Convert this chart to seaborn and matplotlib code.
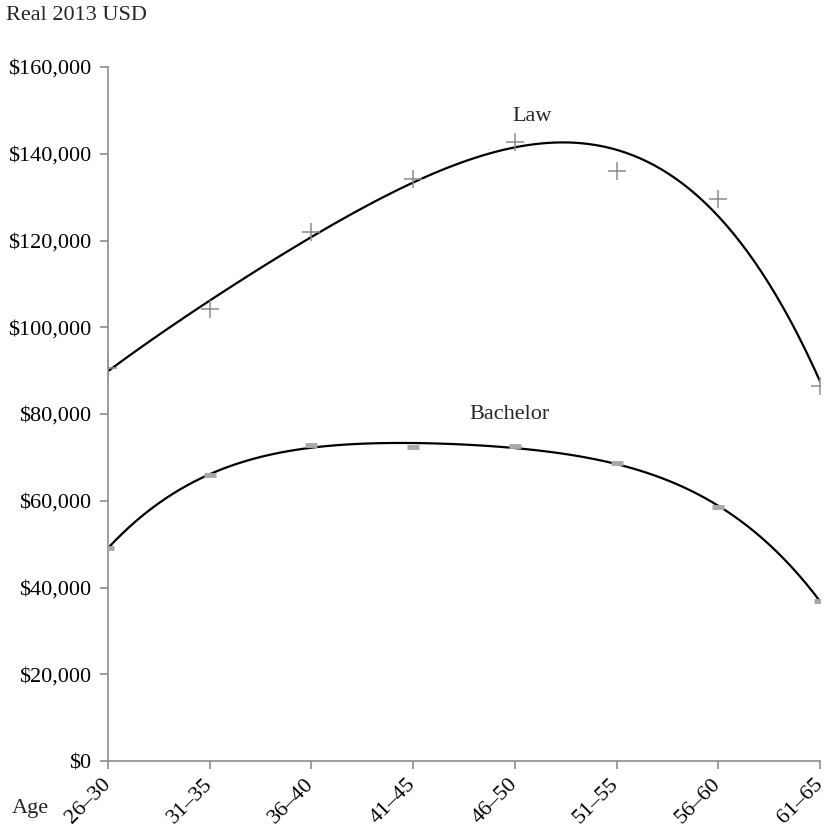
import matplotlib
matplotlib.use("Agg")
import matplotlib.pyplot as plt
import matplotlib.ticker as mticker
import matplotlib.transforms as mtransforms
import seaborn as sns
import numpy as np
import pandas as pd

age_groups = ["26–30", "31–35", "36–40", "41–45", "46–50", "51–55", "56–60", "61–65"]
law = [90500, 104200, 122000, 134200, 142700, 136000, 129600, 86500]
bachelor = [49100, 65900, 72900, 72400, 72600, 68600, 58600, 36900]
y_ticks = [0, 20000, 40000, 60000, 80000, 100000, 120000, 140000, 160000]

sns.set_theme(style="white")
plt.rcParams["font.family"] = ["Liberation Serif", "DejaVu Serif"]

df = pd.DataFrame({"pos": np.arange(len(age_groups)), "age": age_groups,
                   "Law": law, "Bachelor": bachelor})

fig = plt.figure(figsize=(8.27, 8.32), dpi=100)
ax = fig.add_axes([108/827, 1-761/832, (820-108)/827, (761-67)/832])

gray = "#8c8c8c"
for col in ["Law", "Bachelor"]:
    sns.regplot(data=df, x="pos", y=col, order=4, ci=None, scatter=False, ax=ax,
                line_kws=dict(color="black", lw=1.6))

sns.scatterplot(data=df, x="pos", y="Law", marker="+", s=160, color=gray,
                linewidth=1.1, ax=ax, zorder=3)
ax.plot(df["pos"], df["Bachelor"], linestyle="none", marker="_", markersize=8,
        markeredgewidth=3.5, color="#a8a8a8", zorder=3)

ax.set_xlim(0, len(age_groups) - 1)
ax.set_ylim(0, 160000)
ax.set_yticks(y_ticks)
ax.yaxis.set_major_formatter(mticker.FuncFormatter(lambda v, p: f"${int(v):,}"))
ax.set_xticks(df["pos"])
ax.set_xticklabels(age_groups, rotation=45, ha="right", rotation_mode="anchor")
ax.set_xlabel("")
ax.set_ylabel("")

for side in ["top", "right"]:
    ax.spines[side].set_visible(False)
for side in ["left", "bottom"]:
    ax.spines[side].set_color(gray)
    ax.spines[side].set_linewidth(1.2)
    ax.spines[side].set_clip_on(False)

ax.tick_params(axis="both", which="major", direction="out", length=6, width=1.2,
               color=gray, labelsize=16, labelcolor="black", pad=6)
ax.tick_params(axis="x", pad=4, bottom=True)
ax.tick_params(axis="y", left=True)
offset = mtransforms.ScaledTranslation(-7/100, 0, fig.dpi_scale_trans)
for lbl in ax.get_xticklabels():
    lbl.set_color("black")
    lbl.set_transform(lbl.get_transform() + offset)

ax.text(4.17, 146500, "Law", fontsize=16, ha="center", va="bottom")
ax.text(3.95, 77700, "Bachelor", fontsize=16, ha="center", va="bottom")

fig.text(6/827, 1-15/832, "Real 2013 USD", fontsize=16, ha="left", va="center")
fig.text(12/827, 1-808/832, "Age", fontsize=16, ha="left", va="center")

fig.savefig("out.png", dpi=100)
